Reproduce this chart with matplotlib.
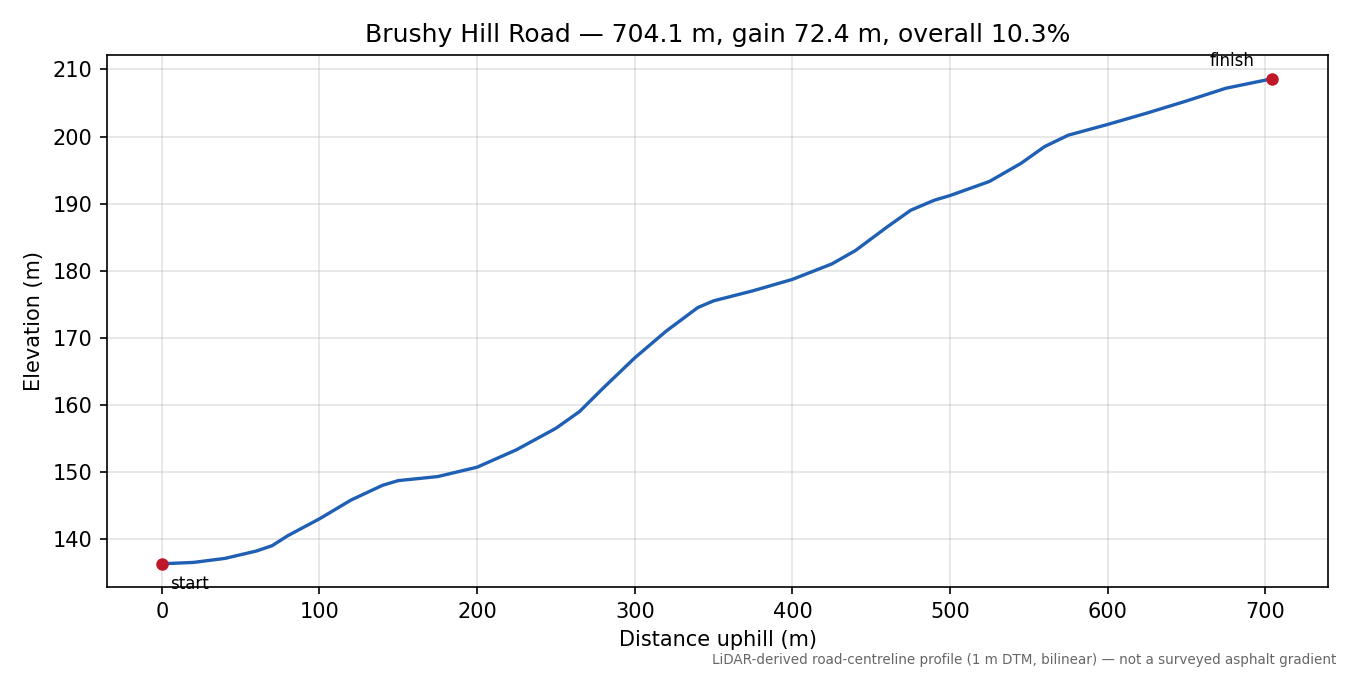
import matplotlib
matplotlib.use('Agg')
import matplotlib.pyplot as plt

# Profile
distance = [0, 20, 40, 60, 70, 80, 100, 120, 140, 150, 175, 200, 225, 250, 265,
            280, 300, 320, 340, 350, 375, 400, 425, 440, 460, 475, 490, 500,
            525, 545, 560, 575, 600, 625, 650, 675, 704.1]
elevation = [136.3, 136.5, 137.1, 138.2, 139.0, 140.5, 143.0, 145.8, 148.0, 148.7,
             149.3, 150.7, 153.3, 156.5, 159.0, 162.5, 167.0, 171.0, 174.5, 175.5,
             177.0, 178.7, 181.0, 183.0, 186.5, 189.0, 190.5, 191.2, 193.3, 196.0,
             198.5, 200.2, 201.8, 203.5, 205.3, 207.2, 208.6]

fig, ax = plt.subplots(figsize=(9, 4.5), dpi=150)
ax.plot(distance, elevation, color='#1f5fb4', linewidth=1.6)
ax.plot([distance[0], distance[-1]], [elevation[0], elevation[-1]], 'o',
        color='#c0182a', markersize=5, zorder=3)
ax.annotate('start', (distance[0], elevation[0]), xytext=(4, -12),
            textcoords='offset points', fontsize=8)
ax.annotate('finish', (distance[-1], elevation[-1]), xytext=(-30, 6),
            textcoords='offset points', fontsize=8)

ax.set_xlim(-35, 740)
ax.set_ylim(132.8, 212.2)
ax.set_xlabel('Distance uphill (m)')
ax.set_ylabel('Elevation (m)')
ax.set_title('Brushy Hill Road — 704.1 m, gain 72.4 m, overall 10.3%', fontsize=12)
ax.grid(True, alpha=0.35)
fig.subplots_adjust(left=0.079, right=0.984, top=0.919, bottom=0.13)
fig.text(0.99, 0.012, 'LiDAR-derived road-centreline profile (1 m DTM, bilinear) — not a surveyed asphalt gradient',
         ha='right', va='bottom', fontsize=6.5, color='#666666')
fig.savefig('out.png', dpi=150)
